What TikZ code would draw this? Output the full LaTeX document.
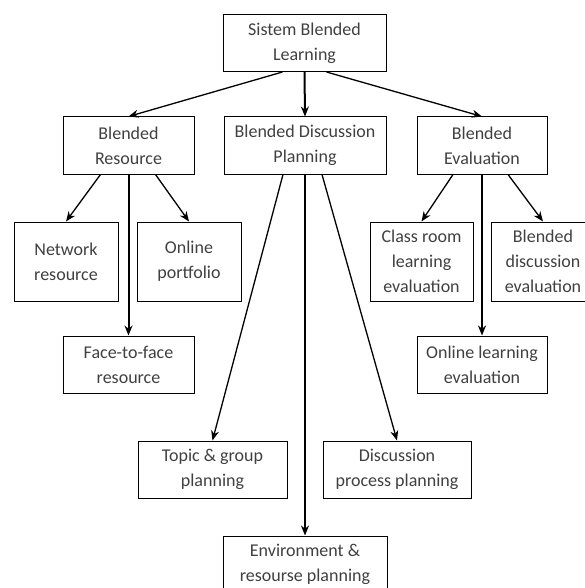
\documentclass[tikz,border=0pt]{standalone}
\usepackage{fontspec}
\setmainfont{Carlito}
\usetikzlibrary{arrows.meta, positioning, calc}

\begin{document}
\begin{tikzpicture}[x=1pt, y=-1pt,
  box/.style={rectangle, draw, line width=1pt, align=center, text=black!75,
    font=\fontsize{18}{25}\selectfont, inner sep=0pt, minimum height=57pt},
  thickarrow/.style={->, line width=2pt},
  thinarrow/.style={->, line width=1.3pt},
  >={Stealth[length=10pt,width=8pt]}]
\useasboundingbox (0,0) rectangle (584,588);
%nodes
\node[box, minimum width=163pt] (sbl) at (304.5,43) {Sistem Blended\\Learning};
\node[box, minimum width=131pt] (res) at (128.5,145.5) {Blended\\Resource};
\node[box, minimum width=162pt] (plan) at (305,145.5) {Blended Discussion\\Planning};
\node[box, minimum width=130pt] (eval) at (482,145.5) {Blended\\Evaluation};
\node[box, minimum width=104pt, minimum height=79pt] (net) at (66,261.5) {Network\\resource};
\node[box, minimum width=104pt, minimum height=79pt] (port) at (189,261.5) {Online\\portfolio};
\node[box, minimum width=131pt] (ftf) at (128.5,364.5) {Face-to-face\\resource};
\node[box, minimum width=103pt, minimum height=79pt] (class) at (421.5,261.5) {Class room\\learning\\evaluation};
\node[box, minimum width=104pt, minimum height=79pt] (bde) at (543,261.5) {Blended\\discussion\\evaluation};
\node[box, minimum width=130pt] (ole) at (482,364.5) {Online learning\\evaluation};
\node[box, minimum width=149pt] (topic) at (212.5,469.5) {Topic \& group\\planning};
\node[box, minimum width=148pt] (proc) at (397,469.5) {Discussion\\process planning};
\node[box, minimum width=164pt] (env) at (305,564.5) {Environment \&\\resourse planning};

%connections
\draw[thinarrow] ([xshift=-22pt]sbl.south) -- (res.north);
\draw[thickarrow] (sbl.south) -- (plan.north);
\draw[thinarrow] ([xshift=22pt]sbl.south) -- (eval.north);
\draw[thinarrow] ([xshift=-28pt]res.south) -- (net.north);
\draw[thickarrow] (res.south) -- (ftf.north);
\draw[thinarrow] ([xshift=27pt]res.south) -- (port.north);
\draw[thinarrow] ([xshift=-22pt]plan.south) -- (topic.north);
\draw[thickarrow] (plan.south) -- (env.north);
\draw[thinarrow] ([xshift=17pt]plan.south) -- (proc.north);
\draw[thinarrow] ([xshift=-29pt]eval.south) -- (class.north);
\draw[thickarrow] (eval.south) -- (ole.north);
\draw[thinarrow] ([xshift=26pt]eval.south) -- (bde.north);
\end{tikzpicture}
\end{document}
